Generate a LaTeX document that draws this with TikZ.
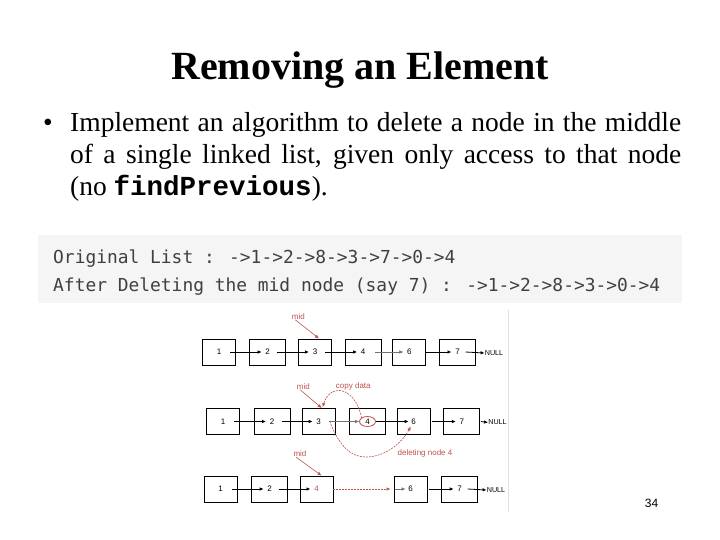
\documentclass[tikz,border=0pt]{standalone}
\usepackage{fontspec}
\setmainfont{Liberation Serif}
\newfontfamily\codefont{DejaVu Sans Mono}
\newfontfamily\boldmono{Liberation Mono}
\newfontfamily\figfont{Liberation Sans}
\usetikzlibrary{arrows.meta,shapes.geometric}
\definecolor{markred}{HTML}{C0504D}
\definecolor{codebg}{HTML}{F5F5F5}
\definecolor{codetext}{HTML}{404040}

\begin{document}
\begin{tikzpicture}[x=1pt, y=-1pt, >={Latex[length=4pt,width=3.5pt]},
  body/.style={anchor=base west, inner sep=0pt, font=\fontsize{27.5}{32}\selectfont},
  code/.style={anchor=base west, inner sep=0pt, text=codetext, font=\codefont\fontsize{17.9}{20}\selectfont},
  cell/.style={draw, line width=0.9pt, minimum width=33pt, minimum height=26pt, inner sep=0pt, font=\figfont\fontsize{8}{9}\selectfont},
  widecell/.style={cell, minimum width=36pt},
  nul/.style={inner sep=0pt, font=\figfont\fontsize{7.2}{8}\selectfont},
  redtxt/.style={inner sep=0pt, text=markred, font=\figfont\fontsize{8}{9}\selectfont},
  ptr/.style={->, line width=0.8pt},
  faint/.style={->, line width=0.5pt, black!55},
  redarrow/.style={->, line width=0.6pt, markred}]
  \useasboundingbox (0,0) rectangle (720,540);

  \node[anchor=base, inner sep=0pt, font=\bfseries\fontsize{40}{48}\selectfont] (title)
    at (360,80) {Removing an Element};

  \node[body] (dot) at (43,132) {\textbullet};
  \node[body] (l1) at (70,132) {\makebox[611pt][s]{Implement an algorithm to delete a node in the middle}};
  \node[body] (l2) at (70,164) {\makebox[611pt][s]{of a single linked list, given only access to that node}};
  \node[body] (l3) at (70,196) {(no {\boldmono\bfseries findPrevious}).};

  \fill[codebg] (38,235) rectangle (682,303);
  \node[code] (orig) at (53,263) {Original List : ->1->2->8->3->7->0->4};
  \node[code] (after) at (53,291) {After Deleting the mid node (say 7) : ->1->2->8->3->0->4};

  \draw[black!12, line width=0.6pt] (508,310) -- (508,512);

  % first list
  \node[cell] (a1) at (219,352) {1};
  \node[widecell] (a2) at (267.7,352) {2};
  \node[cell] (a3) at (315,352) {3};
  \node[widecell] (a4) at (363.2,352) {4};
  \node[cell] (a6) at (409.4,352) {6};
  \node[widecell] (a7) at (457.5,352) {7};
  \node[nul] (n1) at (494,353) {NULL};
  \node[redtxt] (m1) at (298.3,316.7) {mid};

  \draw[ptr] ([xshift=11pt]a1.center) -- ([xshift=-6pt]a2.center);
  \draw[ptr] ([xshift=9pt]a2.center) -- ([xshift=-6pt]a3.center);
  \draw[ptr] ([xshift=10pt]a3.center) -- ([xshift=-6pt]a4.center);
  \draw[faint] ([xshift=12pt]a4.center) -- ([xshift=-6pt]a6.center);
  \draw[ptr] (a6.east) -- ([xshift=-6pt]a7.center);
  \draw[ptr] ([xshift=8pt]a7.center) -- (n1.west);
  \draw[redarrow] ([xshift=-3pt]m1.south) -- ([xshift=4pt]a3.north);

  % copy the next value
  \node[cell] (b1) at (223,421.5) {1};
  \node[widecell] (b2) at (272,421.5) {2};
  \node[cell] (b3) at (318.7,421.5) {3};
  \node[widecell] (b4) at (367.5,421.5) {4};
  \node[cell] (b6) at (413.7,421.5) {6};
  \node[widecell] (b7) at (461.9,421.5) {7};
  \node[nul] (n2) at (497.5,422.5) {NULL};
  \node[ellipse, draw=markred, line width=0.8pt, minimum width=16pt, minimum height=10pt, inner sep=0pt] (ring)
    at (b4.center) {};
  \node[redtxt] (m2) at (303.3,386.7) {mid};
  \node[redtxt] (copy) at (353.3,386.7) {copy data};
  \node[redtxt] (del) at (425,453.3) {deleting node 4};

  \draw[ptr] ([xshift=11pt]b1.center) -- ([xshift=-6pt]b2.center);
  \draw[ptr] ([xshift=10pt]b2.center) -- ([xshift=-6pt]b3.center);
  \draw[faint] ([xshift=10pt]b3.center) -- (ring.west);
  \draw[ptr] (ring.east) -- ([xshift=-5pt]b6.center);
  \draw[ptr] ([xshift=18pt]b6.center) -- ([xshift=-6pt]b7.center);
  \draw[ptr] ([xshift=19pt]b7.center) -- (n2.west);
  \draw[redarrow] ([xshift=-3pt]m2.south) -- ([xshift=3pt]b3.north);
  \draw[redarrow, dash pattern=on 2pt off 1pt] (ring.north west)
    .. controls (355,386) and (330,383) .. ([xshift=4pt,yshift=1pt]b3.north);
  \draw[redarrow, dash pattern=on 2pt off 1pt] ([xshift=11pt]b3.center)
    .. controls (340,448) and (352,457) .. (366,457)
    .. controls (385,457) and (402,443) .. ([xshift=-3pt,yshift=-5pt]b6.center);

  % after deleting
  \node[cell] (c1) at (220.5,489) {1};
  \node[widecell] (c2) at (269.7,489) {2};
  \node[cell, text=markred] (c3) at (316.5,489) {4};
  \node[cell] (c6) at (410.5,489) {6};
  \node[widecell] (c7) at (459.7,489) {7};
  \node[nul] (n3) at (496,490) {NULL};
  \node[redtxt] (m3) at (300,454) {mid};

  \draw[ptr] ([xshift=11pt]c1.center) -- ([xshift=-6pt]c2.center);
  \draw[ptr] ([xshift=9pt]c2.center) -- ([xshift=-6pt]c3.center);
  \draw[redarrow, dash pattern=on 2pt off 1pt] (c3.east) -- ([xshift=-3pt]c6.west);
  \draw[faint] ([xshift=1pt]c6.west) -- ([xshift=-5pt]c6.center);
  \draw[ptr] ([xshift=18pt]c6.center) -- ([xshift=-6pt]c7.center);
  \draw[ptr] ([xshift=8pt]c7.center) -- (n3.west);
  \draw[redarrow] ([xshift=-4pt]m3.south) -- ([xshift=5pt]c3.north);

  \node[inner sep=0pt, font=\figfont\fontsize{12}{14}\selectfont] (page) at (651.5,503) {34};
\end{tikzpicture}
\end{document}
